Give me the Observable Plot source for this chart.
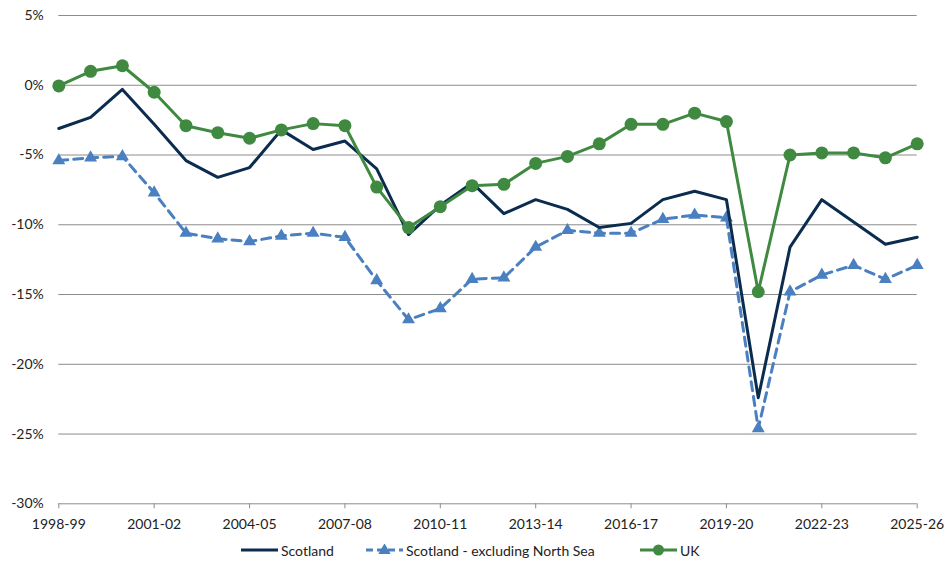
<!DOCTYPE html>
<html>
<head>
<meta charset="utf-8">
<script src="https://cdn.jsdelivr.net/npm/d3@7"></script>
<script src="https://cdn.jsdelivr.net/npm/@observablehq/plot@0.6"></script>
<style>
  html, body { margin: 0; padding: 0; background: #fff; }
  body { width: 951px; height: 565px; overflow: hidden; font-family: Lato, "Open Sans", sans-serif; }
  #legend { position: relative; height: 30px; font-size: 14px; color: #222; }
  .item { position: absolute; top: 0; height: 30px; display: flex; align-items: center; }
  .item svg { margin-right: 3px; }
</style>
</head>
<body>
<div id="chart"></div>
<div id="legend"></div>
<script>
const years = ["1998-99","1999-00","2000-01","2001-02","2002-03","2003-04","2004-05","2005-06","2006-07","2007-08",
  "2008-09","2009-10","2010-11","2011-12","2012-13","2013-14","2014-15","2015-16","2016-17","2017-18",
  "2018-19","2019-20","2020-21","2021-22","2022-23","2023-24","2024-25","2025-26"];
const tickLabels = ["1998-99","2001-02","2004-05","2007-08","2010-11","2013-14","2016-17","2019-20","2022-23","2025-26"];
const yTicks = [5, 0, -5, -10, -15, -20, -25, -30];

const scotland = [-3.1,-2.3,-0.3,-2.8,-5.4,-6.6,-5.9,-3.2,-4.6,-4.0,-6.0,-10.7,-8.6,-7.0,-9.2,-8.2,-8.9,-10.2,-9.9,-8.2,-7.6,-8.2,-22.4,-11.6,-8.2,-9.8,-11.4,-10.9];
const scotlandExNorthSea = [-5.4,-5.2,-5.1,-7.7,-10.6,-11.0,-11.2,-10.8,-10.6,-10.9,-14.0,-16.8,-16.0,-13.9,-13.8,-11.6,-10.4,-10.6,-10.6,-9.6,-9.3,-9.5,-24.6,-14.8,-13.6,-12.9,-13.9,-12.9];
const uk = [-0.05,1.0,1.4,-0.5,-2.9,-3.4,-3.8,-3.2,-2.75,-2.9,-7.3,-10.2,-8.7,-7.2,-7.1,-5.6,-5.1,-4.2,-2.8,-2.8,-2.0,-2.6,-14.8,-5.0,-4.85,-4.85,-5.2,-4.2];

const seriesNames = ["Scotland", "Scotland - excluding North Sea", "UK"];
const colors = {navy: "#0b2c4f", blue: "#4a7fc0", green: "#3f8a40", grid: "#8c8c8c", text: "#222222"};

const toRows = arr => years.map((year, i) => ({i, year, v: arr[i]}));
const scotRows = toRows(scotland);
const exRows = toRows(scotlandExNorthSea);
const ukRows = toRows(uk);
const tickIdx = tickLabels.map(t => years.indexOf(t));

const chart = Plot.plot({
  width: 951,
  height: 535,
  marginLeft: 58.3,
  marginRight: 34.3,
  marginTop: 15,
  marginBottom: 31.7,
  style: {fontFamily: "Lato, 'Open Sans', sans-serif", fontSize: "14px", color: colors.text, background: "#fff"},
  x: {type: "linear", domain: [0, years.length - 1]},
  y: {domain: [-30, 5]},
  marks: [
    Plot.ruleY(yTicks, {stroke: colors.grid, strokeWidth: 1}),
    Plot.axisY(yTicks, {tickSize: 0, tickPadding: 15, tickFormat: d => d + "%", fill: colors.text, label: null}),
    Plot.axisX(tickIdx, {tickSize: 5, tickPadding: 10, stroke: colors.grid, fill: colors.text, tickFormat: i => years[i], label: null}),
    Plot.line(exRows, {x: "i", y: "v", stroke: colors.blue, strokeWidth: 3, strokeDasharray: "9,6"}),
    Plot.dot(exRows, {x: "i", y: "v", symbol: "triangle", r: 4.8, fill: colors.blue, stroke: "none"}),
    Plot.line(scotRows, {x: "i", y: "v", stroke: colors.navy, strokeWidth: 3}),
    Plot.line(ukRows, {x: "i", y: "v", stroke: colors.green, strokeWidth: 3}),
    Plot.dot(ukRows, {x: "i", y: "v", r: 6.5, fill: colors.green, stroke: "none"})
  ]
});
document.getElementById("chart").appendChild(chart);

// Legend
const legendItems = [
  {name: seriesNames[0], color: colors.navy, dash: null, marker: null, left: 241},
  {name: seriesNames[1], color: colors.blue, dash: "7,4", marker: "triangle", left: 366},
  {name: seriesNames[2], color: colors.green, dash: null, marker: "circle", left: 640}
];
const legend = d3.select("#legend");
for (const it of legendItems) {
  const div = legend.append("div").attr("class", "item").style("left", it.left + "px");
  const s = div.append("svg").attr("width", 37).attr("height", 12);
  s.append("line").attr("x1", 0).attr("x2", 37).attr("y1", 6).attr("y2", 6)
    .attr("stroke", it.color).attr("stroke-width", 3).attr("stroke-dasharray", it.dash);
  if (it.marker === "circle") {
    s.append("circle").attr("cx", 18.5).attr("cy", 6).attr("r", 5.5).attr("fill", it.color);
  } else if (it.marker === "triangle") {
    s.append("path").attr("transform", "translate(18.5,6.5)")
      .attr("d", d3.symbol(d3.symbolTriangle, Math.PI * 4.6 * 4.6)()).attr("fill", it.color);
  }
  div.append("span").text(it.name);
}
</script>
</body>
</html>
